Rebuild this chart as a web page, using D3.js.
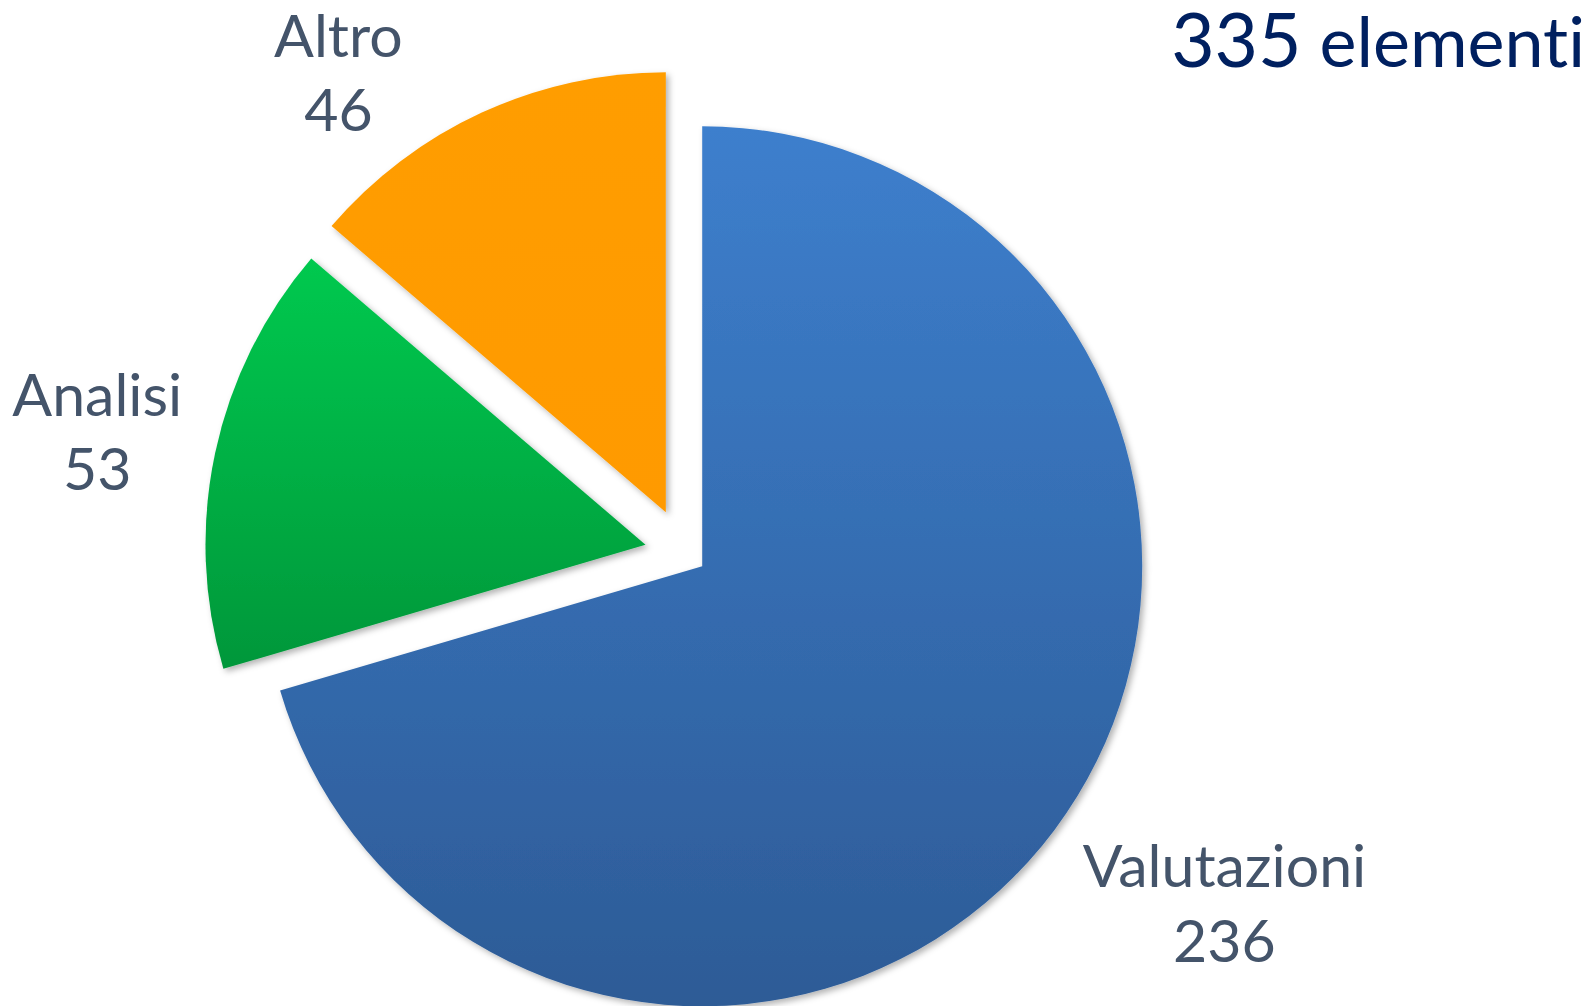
<!DOCTYPE html>
<html>
<head>
<meta charset="utf-8">
<script src="https://cdn.jsdelivr.net/npm/d3@7"></script>
<style>
    body { margin: 0; background: #fff; }
    svg { display: block; }
    text { font-family: Lato, "Open Sans", sans-serif; font-variant-ligatures: none; }
</style>
</head>
<body>
<div id="chart"></div>
<script>
// data
var categories = ["Valutazioni", "Analisi", "Altro"];
var counts = [236, 53, 46];
var totalLabel = "elementi";

// styling / layout
var width = 1596;
var height = 1006;
var center = { x: 684.6, y: 553.1 };
var radius = 440;
var explodeOffsets = [22, 40, 45];
var labelRadius = [643, 600, 593];
var labelAngleShift = [-3.9, -0.3, -11.0]; // degrees
var sliceColors = [
    ["#3d7fcd", "#2d5b96"],
    ["#00c94f", "#00973a"],
    ["#ff9d00", "#ff9a00"]
];
var labelColor = "#44546a";
var titleColor = "#002060";

var slices = categories.map(function (c, i) {
    return { name: c, value: counts[i], index: i };
});

var svg = d3.select("#chart").append("svg")
    .attr("width", width)
    .attr("height", height);

var defs = svg.append("defs");

var shadow = defs.append("filter")
    .attr("id", "shadow")
    .attr("x", "-10%").attr("y", "-10%")
    .attr("width", "120%").attr("height", "120%");
shadow.append("feDropShadow")
    .attr("dx", 3).attr("dy", 3)
    .attr("stdDeviation", 3)
    .attr("flood-color", "#000")
    .attr("flood-opacity", 0.3);

sliceColors.forEach(function (c, i) {
    var g = defs.append("linearGradient")
        .attr("id", "grad" + i)
        .attr("x1", 0).attr("y1", 0)
        .attr("x2", 0).attr("y2", 1);
    g.append("stop").attr("offset", "0%").attr("stop-color", c[0]);
    g.append("stop").attr("offset", "100%").attr("stop-color", c[1]);
});

var pie = d3.pie()
    .sort(null)
    .value(function (d) { return d.value; });

var arc = d3.arc()
    .innerRadius(0)
    .outerRadius(radius);

var arcs = pie(slices);

var chartGroup = svg.append("g")
    .attr("transform", "translate(" + center.x + "," + center.y + ")");

chartGroup.selectAll("path.slice")
    .data(arcs)
    .enter()
    .append("path")
    .attr("class", "slice")
    .attr("d", arc)
    .attr("fill", function (d) { return "url(#grad" + d.index + ")"; })
    .attr("filter", "url(#shadow)")
    .attr("transform", function (d) {
        var mid = (d.startAngle + d.endAngle) / 2;
        var off = explodeOffsets[d.index];
        return "translate(" + (Math.sin(mid) * off) + "," + (-Math.cos(mid) * off) + ")";
    });

// labels: name + value, outside each slice
var labels = chartGroup.selectAll("text.label")
    .data(arcs)
    .enter()
    .append("text")
    .attr("class", "label")
    .attr("text-anchor", "middle")
    .attr("fill", labelColor)
    .style("font-size", "59px")
    .attr("transform", function (d) {
        var mid = (d.startAngle + d.endAngle) / 2 + labelAngleShift[d.index] * Math.PI / 180;
        var r = labelRadius[d.index];
        var p = d3.arc().innerRadius(r).outerRadius(r).centroid({ startAngle: mid, endAngle: mid });
        return "translate(" + p[0] + "," + p[1] + ")";
    });

labels.append("tspan")
    .attr("x", 0)
    .attr("y", -15)
    .text(function (d) { return d.data.name; });

labels.append("tspan")
    .attr("x", 0)
    .attr("y", 59.5)
    .text(function (d) { return d.data.value; });

// total in the top right corner
var total = d3.sum(counts);
var title = svg.append("text")
    .attr("x", 1585)
    .attr("y", 66.7)
    .attr("text-anchor", "end")
    .attr("fill", titleColor);

title.append("tspan")
    .style("font-size", "75px")
    .text(total);
title.append("tspan")
    .style("font-size", "70px")
    .text(" " + totalLabel);
</script>
</body>
</html>
